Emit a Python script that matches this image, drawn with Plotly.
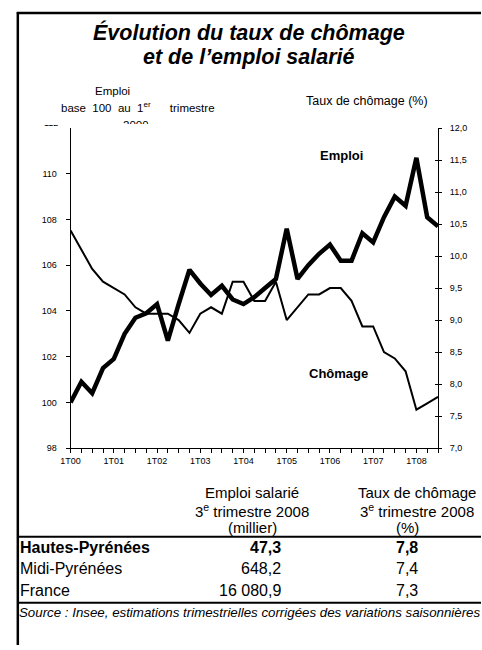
import plotly.graph_objects as go

W, H = 482, 650

trimestres = [
    "1T00", "2T00", "3T00", "4T00", "1T01", "2T01", "3T01", "4T01",
    "1T02", "2T02", "3T02", "4T02", "1T03", "2T03", "3T03", "4T03",
    "1T04", "2T04", "3T04", "4T04", "1T05", "2T05", "3T05", "4T05",
    "1T06", "2T06", "3T06", "4T06", "1T07", "2T07", "3T07", "4T07",
    "1T08", "2T08", "3T08",
]
emploi = [
    100.0, 100.9, 100.4, 101.5, 101.9, 103.0, 103.7, 103.9,
    104.3, 102.7, 104.3, 105.8, 105.2, 104.7, 105.1, 104.5,
    104.3, 104.6, 105.0, 105.4, 107.6, 105.4, 106.0, 106.5,
    106.9, 106.2, 106.2, 107.4, 107.0, 108.1, 109.0, 108.6,
    110.7, 108.1, 107.7,
]
chomage = [
    10.4, 10.1, 9.8, 9.6, 9.5, 9.4, 9.2, 9.1,
    9.1, 9.1, 9.0, 8.8, 9.1, 9.2, 9.1, 9.6,
    9.6, 9.3, 9.3, 9.6, 9.0, 9.2, 9.4, 9.4,
    9.5, 9.5, 9.3, 8.9, 8.9, 8.5, 8.4, 8.2,
    7.6, 7.7, 7.8,
]
left_ticks = [98, 100, 102, 104, 106, 108, 110]
right_ticks = [7.0, 7.5, 8.0, 8.5, 9.0, 9.5, 10.0, 10.5, 11.0, 11.5, 12.0]

regions = ["Hautes-Pyrénées", "Midi-Pyrénées", "France"]
emploi_t3_2008 = [47.3, 648.2, 16080.9]
chomage_t3_2008 = [7.8, 7.4, 7.3]

FONT = "Liberation Sans, Arial, sans-serif"


def px(x):
    return x / W


def py(y):
    return 1 - y / H


def fr(v):
    s = f"{v:,.1f}"
    return s.replace(",", " ").replace(".", ",")


fig = go.Figure()
fig.add_trace(go.Scatter(
    x=trimestres, y=chomage, mode="lines", yaxis="y2",
    line=dict(color="black", width=2), showlegend=False, hoverinfo="skip"))
fig.add_trace(go.Scatter(
    x=trimestres, y=chomage, mode="lines", yaxis="y3",
    line=dict(color="rgba(0,0,0,0)", width=0), showlegend=False, hoverinfo="skip"))
fig.add_trace(go.Scatter(
    x=trimestres, y=emploi, mode="lines", yaxis="y",
    line=dict(color="black", width=4.5), showlegend=False, hoverinfo="skip"))

ydom = [py(450), py(125)]
fig.update_layout(
    width=W, height=H,
    margin=dict(l=0, r=0, t=0, b=0),
    paper_bgcolor="white", plot_bgcolor="white",
    separators=", ",
    font=dict(family=FONT, color="black"),
    xaxis=dict(
        domain=[px(62), px(438)], type="category", range=[0, 34],
        tickvals=trimestres,
        ticktext=[t if t.startswith("1T") else " " for t in trimestres],
        tickangle=0,
        ticks="outside", ticklen=4, tickcolor="black", tickwidth=1,
        showline=True, linecolor="black", linewidth=1,
        showgrid=False, zeroline=False,
        tickfont=dict(size=9, family=FONT, color="black"),
        anchor="y",
    ),
    yaxis=dict(
        domain=ydom, range=[98, 112], tickvals=left_ticks,
        ticks="outside", ticklen=4, tickcolor="black", tickwidth=1,
        showline=True, linecolor="black", linewidth=1,
        showgrid=False, zeroline=False,
        tickfont=dict(size=9, family=FONT, color="black"),
        ticklabelstandoff=7,
    ),
    yaxis2=dict(
        domain=ydom, range=[7, 12], tickvals=right_ticks, tickformat=".1f",
        overlaying="y", side="right", anchor="x",
        ticks="outside", ticklen=3, tickcolor="black", tickwidth=1,
        showline=True, linecolor="black", linewidth=1,
        showgrid=False, zeroline=False,
        tickfont=dict(size=9, family=FONT, color="black"),
        ticklabelstandoff=6,
    ),
    yaxis3=dict(
        domain=ydom, range=[7, 12], tickvals=right_ticks,
        overlaying="y", side="right", anchor="x",
        ticks="inside", ticklen=3, tickcolor="black", tickwidth=1,
        showticklabels=False, showline=False,
        showgrid=False, zeroline=False,
    ),
)

ann = []


def txt(x, y, s, size, xanchor="center", yanchor="middle", bold=False,
        italic=False, **kw):
    f = dict(size=size, family=FONT, color="black")
    if bold:
        f["weight"] = "bold"
    if italic:
        f["style"] = "italic"
    d = dict(xref="paper", yref="paper", x=px(x), y=py(y), text=s,
             showarrow=False, xanchor=xanchor, yanchor=yanchor, font=f,
             borderpad=0)
    d.update(kw)
    ann.append(d)


# Title
txt(245, 28, "Évolution du taux de chômage", 21.5, bold=True, italic=True)
txt(245, 53, "et de l’emploi salarié", 21.5, bold=True, italic=True)

# Axis titles
txt(105, 87, "Emploi", 11.5)
txt(131, 104, "base\u00a0\u00a0100\u00a0\u00a0au\u00a0\u00a01<sup>er</sup>\u00a0\u00a0\u00a0\u00a0\u00a0\u00a0trimestre", 11.5)
txt(129, 115, "2000", 11.5, yanchor="top", height=5, valign="top")
txt(50, 126, "112", 9, xanchor="right", yanchor="bottom", height=3, valign="bottom")
txt(365, 97, "Taux de chômage (%)", 12.5)

# Series labels
txt(339, 153, "Emploi", 13, bold=True)
txt(336, 374, "Chômage", 13, bold=True)

# Table header
txt(248, 495, "Emploi salarié", 15)
txt(248, 513, "3<sup>e</sup> trimestre 2008", 15)
txt(248, 531, "(millier)", 15)
txt(417, 495, "Taux de chômage", 15)
txt(417, 513, "3<sup>e</sup> trimestre 2008", 15)
txt(407, 531, "(%)", 15)

row_y = [551, 572, 595]
for i, (r, e, c) in enumerate(zip(regions, emploi_t3_2008, chomage_t3_2008)):
    b = i == 0
    txt(9, row_y[i], r, 16, xanchor="left", bold=b)
    txt(278, row_y[i], fr(e), 16, xanchor="right", bold=b)
    txt(419, row_y[i], fr(c), 16, xanchor="right", bold=b)

txt(8, 617, "Source : Insee, estimations trimestrielles corrigées des variations saisonnières",
    13.3, xanchor="left", italic=True)

fig.update_layout(annotations=ann)

shapes = [
    dict(type="line", xref="paper", yref="paper", x0=px(7), x1=1,
         y0=py(8), y1=py(8), line=dict(color="black", width=2.5)),
    dict(type="line", xref="paper", yref="paper", x0=px(8), x1=px(8),
         y0=py(7), y1=0, line=dict(color="black", width=2.5)),
    dict(type="line", xref="paper", yref="paper", x0=px(8), x1=1,
         y0=py(540), y1=py(540), line=dict(color="black", width=2)),
    dict(type="line", xref="paper", yref="paper", x0=px(8), x1=1,
         y0=py(607), y1=py(607), line=dict(color="black", width=2)),
]
fig.update_layout(shapes=shapes)

fig.write_html(
    "out.html",
    config={"displayModeBar": False},
    post_script="document.body.style.margin='0px';document.body.style.overflow='hidden';",
)
